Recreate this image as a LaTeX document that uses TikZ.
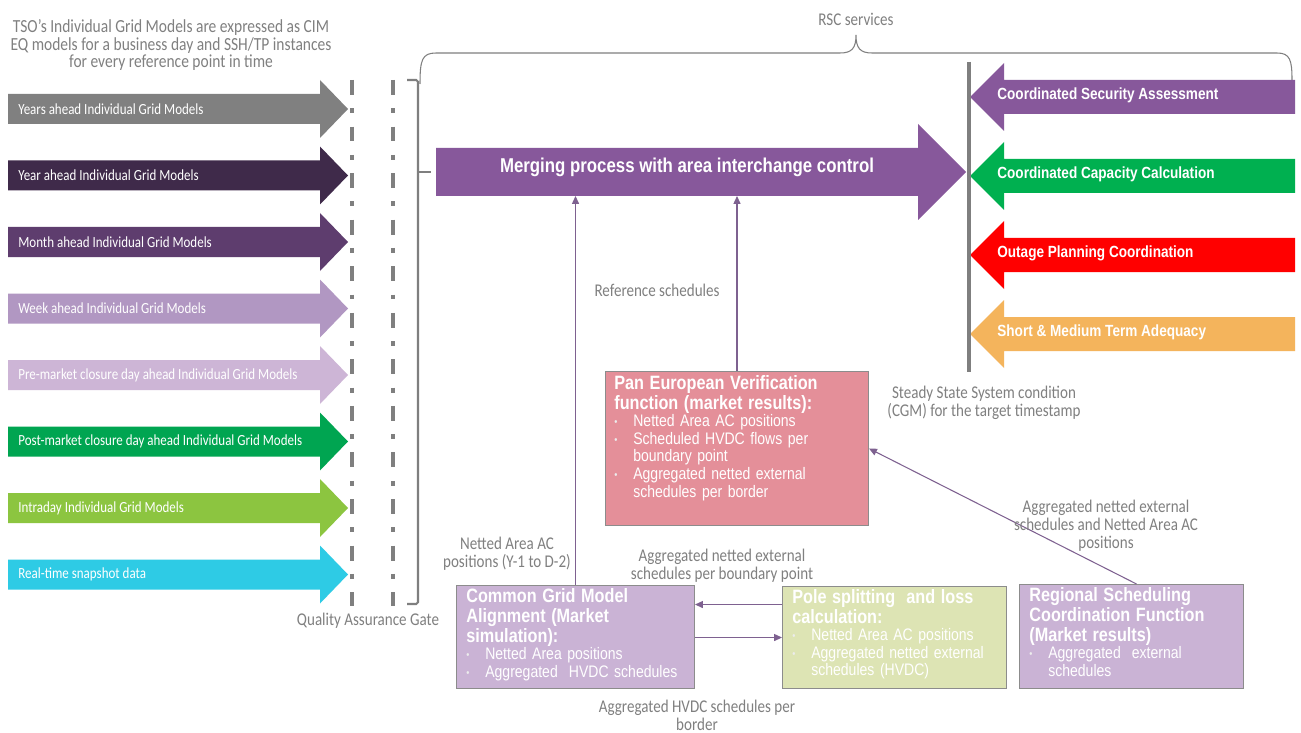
\documentclass[tikz,border=0pt]{standalone}
\usepackage{fontspec}
\setmainfont{Carlito}[FakeStretch=0.84]
\newfontfamily\arialfont{Liberation Sans}[FakeStretch=0.84]
\usetikzlibrary{arrows.meta}

\definecolor{ingrey}{HTML}{808080}
\definecolor{indark}{HTML}{3F2A4A}
\definecolor{inmonth}{HTML}{5E3D6E}
\definecolor{inweek}{HTML}{B197C2}
\definecolor{inpre}{HTML}{CDB5D6}
\definecolor{inpost}{HTML}{00A551}
\definecolor{inintra}{HTML}{8CC540}
\definecolor{inreal}{HTML}{2ECBE5}
\definecolor{rscpurple}{HTML}{87589B}
\definecolor{cccgreen}{HTML}{00B050}
\definecolor{opcred}{HTML}{FF0000}
\definecolor{smtaorange}{HTML}{F4B45C}
\definecolor{pevpink}{HTML}{E48F99}
\definecolor{cgmlilac}{HTML}{CAB3D5}
\definecolor{polegreen}{HTML}{DDE4B4}
\definecolor{boxborder}{HTML}{8C8C8C}
\definecolor{labelgrey}{HTML}{808080}
\definecolor{gategrey}{HTML}{7F7F7F}
\definecolor{linkpurple}{HTML}{7E6190}

\pgfkeys{
  /custom/.cd,
  name/.initial=ba,
  from/.initial=0,
  to/.initial=0,
  y/.initial=0,
  body/.initial=30,
  head/.initial=58,
  tip/.initial=28,
  colour/.initial=gray
}
\newcommand{\blockarrow}[1][]{
    {
        \pgfkeys{/custom/.cd,#1}
        \pgfkeys{/custom/name/.get=\baName}
        \pgfkeys{/custom/from/.get=\baFrom}
        \pgfkeys{/custom/to/.get=\baTo}
        \pgfkeys{/custom/y/.get=\baY}
        \pgfkeys{/custom/body/.get=\baBody}
        \pgfkeys{/custom/head/.get=\baHead}
        \pgfkeys{/custom/tip/.get=\baTip}
        \pgfkeys{/custom/colour/.get=\baColour}
        \fill[fill=\baColour] ({\baFrom},{\baY-\baBody/2}) -- ({\baTo-\baTip},{\baY-\baBody/2})
            -- ({\baTo-\baTip},{\baY-\baHead/2}) -- ({\baTo},{\baY}) -- ({\baTo-\baTip},{\baY+\baHead/2})
            -- ({\baTo-\baTip},{\baY+\baBody/2}) -- ({\baFrom},{\baY+\baBody/2}) -- cycle;
        \coordinate (\baName-tail) at ({\baFrom},{\baY});
        \coordinate (\baName-tip) at ({\baTo},{\baY});
        \coordinate (\baName-south) at ({(\baFrom+\baTo-\baTip)/2},{\baY+\baBody/2});
    }
}
\newcommand{\bitem}[1]{\noindent\hangindent=10.8pt\hangafter=1%
  \makebox[10.8pt][l]{\raisebox{0.6pt}{\fontsize{6}{6}\selectfont\color{white!85!gray}\textbullet}}#1\par}

\begin{document}
\begin{tikzpicture}[x=0.02cm,y=-0.02cm,
    link/.style={draw=linkpurple,line width=0.6pt,-{Triangle[length=4.5pt,width=4pt]}},
    greytext/.style={text=labelgrey,font=\fontsize{10.2}{10.2}\selectfont,align=center,inner sep=0pt},
    intext/.style={text=white,font=\fontsize{8.8}{10}\selectfont,anchor=west,inner sep=0pt},
    outtext/.style={text=white,font=\arialfont\bfseries\fontsize{9.2}{11}\selectfont,anchor=west,inner sep=0pt},
    infobox/.style={draw=boxborder,line width=0.6pt,inner sep=0pt,anchor=north west},
    boxtext/.style={text=white,font=\arialfont\fontsize{9.5}{10}\selectfont,align=left,anchor=north west,inner sep=0pt},
    gate/.style={draw=gategrey,line width=2.3pt,dash pattern=on 8.5pt off 7.6pt on 2.8pt off 7.6pt}]
    \fill[white] (0,0) rectangle (1301,733);
    \useasboundingbox (0,0) rectangle (1301,733);

    % individual grid models coming in
    \foreach \i/\col/\txt in {1/ingrey/Years ahead Individual Grid Models,
        2/indark/Year ahead Individual Grid Models,
        3/inmonth/Month ahead Individual Grid Models,
        4/inweek/Week ahead Individual Grid Models,
        5/inpre/Pre-market closure day ahead Individual Grid Models,
        6/inpost/Post-market closure day ahead Individual Grid Models,
        7/inintra/Intraday Individual Grid Models,
        8/inreal/Real-time snapshot data} {
        \pgfmathsetmacro{\yy}{109+66.5*(\i-1)}
        \blockarrow[name=in\i,from=8,to=348,y=\yy,body=30,head=58,tip=28,colour=\col]
        \node[intext] (inlabel\i) at ([xshift=0.2cm]in\i-tail) {\txt};
    }
    \node[greytext,font=\fontsize{10.5}{10.2}\selectfont] (tsonote) at (171,45) {TSO’s Individual Grid Models are expressed as CIM\\EQ models for a business day and SSH/TP instances\\for every reference point in time};

    % quality assurance gate
    \draw[gate] (352,80) -- (352,606);
    \draw[gate] (393,80) -- (393,606);
    \draw[draw=gategrey,line width=1.2pt,rounded corners=1pt] (407,80) -- (418,80) -- (418,604) -- (407,604);
    \draw[draw=gategrey,line width=1.2pt] (418,172) -- (431,172);
    \node[greytext] (gatelabel) at (368,621) {Quality Assurance Gate};

    % RSC services
    \draw[draw=gategrey,line width=0.6pt] (420,84) .. controls (420,60) and (422,53) .. (436,53) -- (840,53)
        .. controls (852,53) and (856,48) .. (856,35) .. controls (856,48) and (860,53) .. (872,53)
        -- (1277,53) .. controls (1290,53) and (1292,60) .. (1292,80);
    \node[greytext] (rsclabel) at (856,19) {RSC services};

    \blockarrow[name=merge,from=436,to=966,y=172,body=48,head=96,tip=48,colour=rscpurple]
    \node[text=white,font=\arialfont\bfseries\fontsize{11.4}{12}\selectfont,inner sep=0pt] (mergelabel) at (687,167) {Merging process with area interchange control};

    \foreach \i/\col/\txt in {1/rscpurple/Coordinated Security Assessment,
        2/cccgreen/Coordinated Capacity Calculation,
        3/opcred/Outage Planning Coordination,
        4/smtaorange/Short \& Medium Term Adequacy} {
        \pgfmathsetmacro{\yy}{97+79*(\i-1)}
        \blockarrow[name=out\i,from=1295,to=970,y=\yy,body=34,head=68,tip=-34,colour=\col]
        \node[outtext] (outlabel\i) at ([xshift=0.54cm,yshift=0.04cm]out\i-tip) {\txt};
    }
    \draw[draw=gategrey,line width=2.3pt] (969,62) -- (969,372);
    \node[greytext] (steadystate) at (984,403) {Steady State System condition\\(CGM) for the target timestamp};

    % verification and scheduling boxes
    \node[infobox,fill=pevpink,minimum width=5.26cm,minimum height=3.08cm] (pev) at (605,371) {};
    \node[boxtext,text width=5cm] (pevtext) at ([xshift=0.18cm,yshift=-0.08cm]pev.north west) {%
        {\bfseries\fontsize{11}{11.3}\selectfont Pan European Verification\newline function (market results):\par}
        \bitem{Netted Area AC positions}
        \bitem{Scheduled HVDC flows per\newline boundary point}
        \bitem{Aggregated netted external\newline schedules per border}};

    \node[infobox,fill=cgmlilac,minimum width=4.76cm,minimum height=2.06cm] (cgm) at (456,585) {};
    \node[boxtext,text width=4.6cm] (cgmtext) at ([xshift=0.2cm,yshift=-0.06cm]cgm.north west) {%
        {\bfseries\fontsize{11}{11.3}\selectfont Common Grid Model\newline Alignment (Market\newline simulation):\par}
        \bitem{Netted Area positions}
        \bitem{Aggregated\ \ HVDC schedules}};

    \node[infobox,fill=polegreen,minimum width=4.48cm,minimum height=2.04cm] (pole) at (782,586) {};
    \node[boxtext,text width=4.3cm] (poletext) at ([xshift=0.2cm,yshift=-0.06cm]pole.north west) {%
        {\bfseries\fontsize{11}{11.3}\selectfont Pole splitting\ \ and loss\newline calculation:\par}
        \bitem{Netted Area AC positions}
        \bitem{Aggregated netted external\newline schedules (HVDC)}};

    \node[infobox,fill=cgmlilac,minimum width=4.48cm,minimum height=2.08cm] (rscf) at (1019,584) {};
    \node[boxtext,text width=4.3cm] (rscftext) at ([xshift=0.2cm,yshift=-0.06cm]rscf.north west) {%
        {\bfseries\fontsize{11}{11.3}\selectfont Regional Scheduling\newline Coordination Function\newline (Market results)\par}
        \bitem{Aggregated\ \ external\newline schedules}};

    % data flows
    \coordinate (upperflow) at ([yshift=0.66cm]pole.west);
    \draw[link] (cgm.north) -- (cgm.north |- merge-south);
    \draw[link] (pev.north) -- (pev.north |- merge-south);
    \draw[link] ([xshift=0.1cm]rscf.north) -- (pev.east);
    \draw[link] (upperflow) -- (upperflow -| cgm.east);
    \draw[link] (cgm.east |- pole.west) -- (pole.west);

    \node[greytext] (refsched) at (657,290) {Reference schedules};
    \node[greytext] (nettedac) at (507,554) {Netted Area AC\\positions (Y-1 to D-2)};
    \node[greytext] (aggboundary) at (722,566) {Aggregated netted external\\schedules per boundary point};
    \node[greytext] (agghvdc) at (697,715) {Aggregated HVDC schedules per\\border};
    \node[greytext] (aggnetted) at (1106,526) {Aggregated netted external\\schedules and Netted Area AC\\positions};
\end{tikzpicture}
\end{document}
